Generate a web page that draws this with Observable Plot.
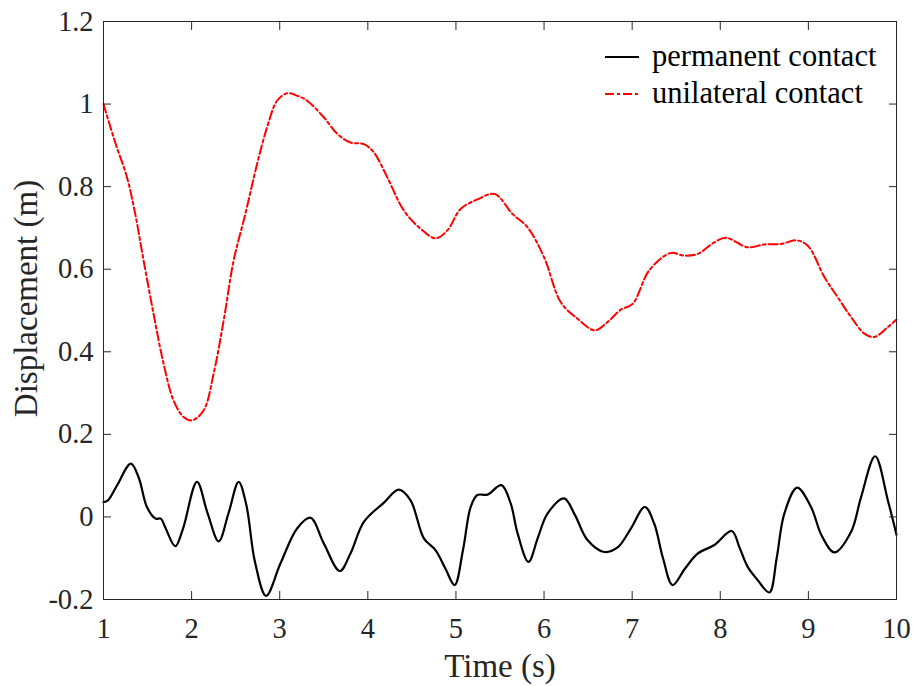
<!DOCTYPE html>
<html>
<head>
<meta charset="utf-8">
<script src="https://cdn.jsdelivr.net/npm/d3@7"></script>
<script src="https://cdn.jsdelivr.net/npm/@observablehq/plot@0.6"></script>
<style>
  html, body { margin: 0; padding: 0; background: #fff; }
  #wrap { position: relative; width: 915px; height: 686px; font-family: "Liberation Serif", "Times New Roman", serif; }
  #legend { position: absolute; left: 604px; top: 38px; font-size: 30.5px; color: #000; line-height: 37px; }
  #legend .row { display: flex; align-items: center; height: 37px; }
  #legend svg { margin-right: 12px; }
</style>
</head>
<body>
<div id="wrap"></div>
<script>
// ---- data ----
const seriesNames = ["permanent contact", "unilateral contact"];

const permanentT = [1.00, 1.05, 1.15, 1.311, 1.40, 1.493, 1.59, 1.65, 1.70, 1.815, 1.90, 2.061, 2.18, 2.307, 2.42, 2.534, 2.62, 2.72, 2.845,
  3.008, 3.197, 3.349, 3.5, 3.682, 3.80, 3.955, 4.18, 4.352, 4.485, 4.636, 4.77, 4.88, 4.985, 5.08, 5.167, 5.243, 5.357, 5.516, 5.622,
  5.70, 5.823, 5.93, 6.039, 6.227, 6.35, 6.493, 6.682, 6.834, 6.98, 7.144, 7.25, 7.35, 7.459, 7.60, 7.743, 7.932, 8.13, 8.22, 8.311,
  8.425, 8.557, 8.64, 8.727, 8.872, 9.03, 9.15, 9.295, 9.485, 9.598, 9.758, 9.902, 10.0];
const permanentV = [0.036, 0.040, 0.075, 0.129, 0.095, 0.024, -0.004, -0.004, -0.025, -0.071, -0.030, 0.085, 0.010, -0.059, 0.010, 0.085, 0.030, -0.110, -0.191,
  -0.113, -0.028, -0.002, -0.064, -0.131, -0.090, -0.012, 0.034, 0.066, 0.040, -0.052, -0.081, -0.125, -0.165, -0.080, 0.024, 0.053, 0.054, 0.077, 0.032,
  -0.040, -0.109, -0.050, 0.008, 0.045, 0.005, -0.056, -0.085, -0.074, -0.030, 0.024, -0.016, -0.100, -0.165, -0.125, -0.089, -0.068, -0.034, -0.075, -0.121,
  -0.153, -0.183, -0.100, 0.008, 0.071, 0.024, -0.045, -0.086, -0.036, 0.048, 0.147, 0.040, -0.043];

const unilateralT = [1.0, 1.133, 1.266, 1.36, 1.455, 1.568, 1.682, 1.795, 1.909, 2.005, 2.136, 2.25, 2.364, 2.477, 2.61, 2.743, 2.857, 2.97, 3.084,
  3.20, 3.311, 3.5, 3.652, 3.803, 3.955, 4.068, 4.22, 4.409, 4.599, 4.769, 4.902, 5.053, 5.243, 5.44, 5.641, 5.811, 6.0, 6.19, 6.38, 6.576,
  6.72, 6.872, 7.005, 7.193, 7.432, 7.591, 7.743, 7.932, 8.065, 8.311, 8.5, 8.69, 8.86, 8.993, 9.182, 9.333, 9.485, 9.636, 9.75, 9.902, 10.0];
const unilateralV = [1.0, 0.907, 0.823, 0.734, 0.621, 0.492, 0.371, 0.282, 0.242, 0.234, 0.258, 0.347, 0.476, 0.621, 0.734, 0.855, 0.944, 1.008, 1.026,
  1.020, 1.008, 0.968, 0.928, 0.907, 0.903, 0.883, 0.823, 0.742, 0.698, 0.675, 0.694, 0.746, 0.769, 0.782, 0.734, 0.702, 0.629, 0.520, 0.48, 0.452,
  0.472, 0.502, 0.516, 0.597, 0.639, 0.633, 0.637, 0.665, 0.676, 0.653, 0.660, 0.661, 0.670, 0.657, 0.581, 0.532, 0.484, 0.444, 0.436, 0.460, 0.478];

const xTicks = [1, 2, 3, 4, 5, 6, 7, 8, 9, 10];
const xTickLabels = ["1", "2", "3", "4", "5", "6", "7", "8", "9", "10"];
const yTicks = [-0.2, 0, 0.2, 0.4, 0.6, 0.8, 1.0, 1.2];
const yTickLabels = ["-0.2", "0", "0.2", "0.4", "0.6", "0.8", "1", "1.2"];
const xLabel = "Time (s)";
const yLabel = "Displacement (m)";

// ---- build ----
const permanent = permanentT.map((t, i) => ({t, v: permanentV[i]}));
const unilateral = unilateralT.map((t, i) => ({t, v: unilateralV[i]}));
const xFmt = d => xTickLabels[xTicks.indexOf(d)];
const yFmt = d => yTickLabels[yTicks.findIndex(v => Math.abs(v - d) < 1e-9)];
const axisColor = "#262626";
const blank = () => "";

const chart = Plot.plot({
  width: 915,
  height: 686,
  marginLeft: 103,
  marginRight: 19,
  marginTop: 21,
  marginBottom: 87,
  style: {fontFamily: "'Liberation Serif', 'Times New Roman', serif", background: "#fff", color: axisColor},
  x: {domain: [1, 10]},
  y: {domain: [-0.2, 1.2]},
  marks: [
    Plot.line(unilateral, {x: "t", y: "v", stroke: "#ff0000", strokeWidth: 2, strokeDasharray: "9,3,3,3", curve: "catmull-rom"}),
    Plot.line(permanent, {x: "t", y: "v", stroke: "#000", strokeWidth: 2.2, curve: "catmull-rom"}),
    // inward tick marks on all four sides
    Plot.axisX(xTicks, {anchor: "bottom", tickSize: -8, tickFormat: blank, stroke: axisColor, label: null}),
    Plot.axisX(xTicks, {anchor: "top", tickSize: -8, tickFormat: blank, stroke: axisColor, label: null}),
    Plot.axisY(yTicks, {anchor: "left", tickSize: -8, tickFormat: blank, stroke: axisColor, label: null}),
    Plot.axisY(yTicks, {anchor: "right", tickSize: -8, tickFormat: blank, stroke: axisColor, label: null}),
    // tick labels
    Plot.axisX(xTicks, {anchor: "bottom", tickSize: 0, tickPadding: 18, tickFormat: xFmt, fontSize: 28.5, fill: axisColor, label: null}),
    Plot.axisY(yTicks, {anchor: "left", tickSize: 0, tickPadding: 10, tickFormat: yFmt, fontSize: 28.5, fill: axisColor, label: null}),
    Plot.frame({stroke: axisColor, strokeWidth: 1}),
    // axis titles
    Plot.text([xLabel], {text: d => d, frameAnchor: "bottom", dy: 67, fontSize: 33, fill: axisColor, lineAnchor: "middle", textAnchor: "middle"}),
    Plot.text([yLabel], {text: d => d, frameAnchor: "left", dx: -77, dy: -12, rotate: -90, fontSize: 33, fill: axisColor, lineAnchor: "middle", textAnchor: "middle"})
  ]
});

const wrap = document.getElementById("wrap");
wrap.appendChild(chart);

// legend (inside top-right of the plot)
const legend = document.createElement("div");
legend.id = "legend";
const styles = [
  {stroke: "#000", dash: null, width: 2.2},
  {stroke: "#ff0000", dash: "9,3,3,3", width: 2}
];
seriesNames.forEach((name, i) => {
  const row = document.createElement("div");
  row.className = "row";
  const s = styles[i];
  row.innerHTML = `<svg width="36" height="10"><line x1="1" x2="35" y1="5" y2="5" stroke="${s.stroke}" stroke-width="${s.width}" ${s.dash ? `stroke-dasharray="${s.dash}"` : ""}/></svg><span>${name}</span>`;
  legend.appendChild(row);
});
wrap.appendChild(legend);
</script>
</body>
</html>
